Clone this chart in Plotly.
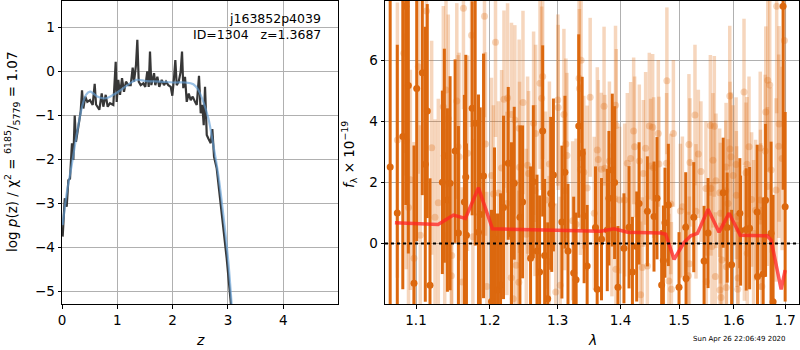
import plotly.graph_objects as go
import math

# ---------------- Left panel: log p(z) ----------------
pz_z = [0.012, 0.05, 0.085, 0.115, 0.145, 0.18, 0.205, 0.23, 0.253, 0.295, 0.338, 0.362, 0.386, 0.421,
        0.458, 0.506, 0.555, 0.591, 0.615, 0.675, 0.718, 0.747, 0.79, 0.826, 0.868, 0.928, 0.971, 0.989,
        1.018, 1.049, 1.085, 1.121, 1.157, 1.199, 1.242, 1.278, 1.302, 1.338, 1.362, 1.387, 1.423, 1.47,
        1.506, 1.542, 1.568, 1.591, 1.615, 1.664, 1.687, 1.724, 1.759, 1.803, 1.844, 1.881, 1.922, 1.966,
        1.995, 2.025, 2.049, 2.074, 2.11, 2.146, 2.17, 2.193, 2.224, 2.255, 2.291, 2.327, 2.363, 2.405,
        2.436, 2.477, 2.508, 2.537, 2.562, 2.586, 2.617, 2.646, 2.689, 2.718, 2.749, 2.797, 2.857, 2.917,
        2.978, 3.038, 3.056]
pz_logp = [-3.75, -2.88, -3.07, -2.47, -2.43, -1.63, -2.01, -1.00, -1.60, -1.22, -0.91, -0.43, -0.84, -0.57,
           -0.69, -0.65, -0.76, -0.28, -0.75, -0.87, -0.50, -0.80, -0.53, -0.80, -0.72, -0.76, 0.22, -0.69,
           -0.19, -0.53, -0.15, -0.46, -0.23, -0.31, -0.31, 0.09, -0.23, 0.15, 0.72, -0.23, -0.31, -0.27,
           -0.35, 0.00, -0.35, 0.45, -0.31, -0.04, -0.31, -0.12, -0.35, -0.19, -0.31, -0.23, -0.31, -0.35,
           -0.55, -0.15, 0.26, -0.31, -0.23, 0.00, 0.45, -0.38, -0.12, -0.69, -0.50, -0.65, -0.57, -0.69,
           -0.76, -0.10, -0.95, -0.76, -1.22, -0.35, -1.44, -1.52, -1.63, -1.31, -1.94, -2.20, -2.96, -3.56,
           -4.25, -5.00, -5.31]

prior_z = [0.012, 0.085, 0.175, 0.265, 0.356, 0.434, 0.506, 0.566, 0.639, 0.747, 0.838, 0.928, 1.018, 1.109,
           1.23, 1.35, 1.53, 1.772, 2.013, 2.224, 2.375, 2.465, 2.555, 2.646, 2.736, 2.826, 2.917, 3.007, 3.068]
prior_logp = [-3.49, -2.77, -2.13, -1.44, -0.84, -0.53, -0.46, -0.50, -0.57, -0.61, -0.59, -0.53, -0.46, -0.38,
              -0.27, -0.19, -0.22, -0.23, -0.25, -0.25, -0.29, -0.42, -0.69, -1.06, -1.67, -2.35, -3.26, -4.32, -5.31]

left_xticks = [0, 1, 2, 3, 4]
left_yticks = [-5, -4, -3, -2, -1, 0, 1]

# ---------------- Right panel: spectrum ----------------
dark_lam = [1.067, 1.076, 1.083, 1.0868, 1.0901, 1.0974, 1.1009, 1.1082, 1.1121, 1.1147, 1.1183, 1.1347, 1.1374,
            1.1415, 1.1451, 1.1519, 1.1564, 1.1646, 1.1665, 1.1674, 1.1753, 1.1795, 1.1841, 1.1865, 1.1912,
            1.2024, 1.2067, 1.2110, 1.2153, 1.2196, 1.2264, 1.2311, 1.2351, 1.2434, 1.2473, 1.2591, 1.2632,
            1.2687, 1.2726, 1.2772, 1.2802, 1.2848, 1.2894, 1.2909, 1.2935, 1.3065, 1.3112, 1.3159, 1.3248,
            1.3285, 1.3327, 1.3381, 1.3412, 1.3460, 1.3593, 1.3620, 1.3690, 1.3783, 1.3810, 1.3865, 1.3903,
            1.3958, 1.4057, 1.4141, 1.4198, 1.4270, 1.4310, 1.4451, 1.4564, 1.4616, 1.4696, 1.4726, 1.4754,
            1.4813, 1.5000, 1.5119, 1.5125, 1.5263, 1.5450, 1.5523, 1.5802, 1.5877, 1.5960, 1.6116, 1.6130,
            1.6237, 1.6302, 1.6448, 1.6455, 1.6565, 1.6612, 1.6720, 1.6760, 1.6959, 1.7000]
dark_flux = [2.5, 1.0, 3.5, 7.76, 5.17, -1.30, 5.07, 5.58, 2.59, 4.33, -1.37, 2.00, 2.87,
             1.42, 1.97, 3.02, 0.34, 1.36, 2.17, 0.27, 4.42, 3.93, 0.37, 0.95, 2.21,
             -1.90, 0.14, -1.52, -1.36, 1.18, 2.62, 0.31, 1.97, 0.86, 1.36, -0.48, 2.02,
             -0.25, -0.93, 3.68, -0.39, -1.81, 1.64, 1.27, 2.24, 0.70, 2.33, -0.25, -0.97,
             -1.19, 3.84, 2.95, 0.90, -0.74, 0.52, -1.50, 0.14, 0.44, 1.48, 2.40, 1.99,
             -1.43, -0.16, 0.53, -0.93, -0.10, 1.31, 1.05, 0.88, 1.48, -1.36, -0.56, 0.68,
             1.26, -1.43, 0.53, -1.15, 0.86, -0.57, 0.34, 1.66, 0.52, -0.70, 0.99, 0.42,
             0.46, 0.50, 1.03, -1.08, -1.00, 1.41, 0.33, -1.91, 7.76, 1.2]
dark_err = [6.0, 5.5, 5.0, 6.5, 5.5, 4.5, 5.0, 4.0, 4.5, 3.5, 3.5, 3.0, 3.5,
            3.0, 3.5, 3.0, 3.5, 3.5, 4.0, 3.0, 3.5, 4.0, 4.5, 3.5, 4.0,
            3.0, 3.0, 2.5, 3.0, 3.0, 2.5, 3.0, 2.5, 3.0, 2.5, 3.0, 2.5,
            2.5, 2.5, 2.8, 2.5, 2.5, 2.5, 2.2, 2.5, 2.5, 2.5, 2.2, 2.5,
            2.2, 3.0, 2.5, 2.2, 2.0, 2.0, 2.0, 2.0, 2.0, 2.2, 2.5, 2.5,
            2.0, 1.8, 2.0, 1.8, 1.8, 2.0, 1.8, 1.8, 2.0, 1.8, 1.8, 1.8,
            2.0, 1.8, 1.8, 1.8, 1.8, 1.8, 1.8, 1.8, 1.8, 1.8, 1.8, 1.8,
            2.0, 2.0, 2.2, 2.2, 2.5, 2.5, 3.0, 3.5, 6.0, 3.1]

light_lam = [1.0761, 1.0843, 1.0863, 1.0875, 1.0903, 1.0927, 1.0974, 1.1030, 1.1056, 1.1136, 1.1205, 1.1249,
             1.1293, 1.1360, 1.1379, 1.1396, 1.1427, 1.1468, 1.1473, 1.1542, 1.1560, 1.1574, 1.1615, 1.1633,
             1.1689, 1.1744, 1.1763, 1.1925, 1.1939, 1.1958, 1.2024, 1.2052, 1.2081, 1.2124, 1.2168, 1.2202,
             1.2245, 1.2254, 1.2307, 1.2311, 1.2336, 1.2360, 1.2380, 1.2418, 1.2423, 1.2428, 1.2479, 1.2528,
             1.2547, 1.2562, 1.2636, 1.2657, 1.2666, 1.2732, 1.2757, 1.2772, 1.2817, 1.2869, 1.2874, 1.2971,
             1.3002, 1.3008, 1.3039, 1.3096, 1.3107, 1.3127, 1.3143, 1.3232, 1.3285, 1.3332, 1.3338, 1.3354,
             1.3364, 1.3407, 1.3460, 1.3508, 1.3573, 1.3622, 1.3638, 1.3687, 1.3731, 1.3743, 1.3818, 1.3859,
             1.3918, 1.3925, 1.3930, 1.3985, 1.4069, 1.4113, 1.4168, 1.4219, 1.4235, 1.4314, 1.4336, 1.4365,
             1.4382, 1.4421, 1.4450, 1.4484, 1.4507, 1.4541, 1.4558, 1.4638, 1.4649, 1.4782, 1.4787, 1.4822,
             1.4854, 1.4866, 1.4901, 1.5024, 1.5060, 1.5166, 1.5177, 1.5184, 1.5195, 1.5285, 1.5303, 1.5346,
             1.5393, 1.5484, 1.5491, 1.5565, 1.5576, 1.5594, 1.5613, 1.5638, 1.5657, 1.5668, 1.5737, 1.5742,
             1.5750, 1.5761, 1.5780, 1.5850, 1.5856, 1.5860, 1.5863, 1.5893, 1.5925, 1.5930, 1.5949, 1.5987,
             1.6044, 1.6050, 1.6055, 1.6076, 1.6081, 1.6195, 1.6202, 1.6233, 1.6252, 1.6258, 1.6291, 1.6341,
             1.6379, 1.6418, 1.6508, 1.6513, 1.6518, 1.6539, 1.6604, 1.6616, 1.6649, 1.6655, 1.6694, 1.6721,
             1.6819, 1.6831, 1.6871, 1.6879, 1.6939, 1.6985]
light_flux = [3.38, 6.22, 6.76, 3.36, 1.18, 2.08, -0.48, 5.78, 0.27, 7.60, 3.13, 0.86,
              1.33, 4.47, 0.25, 5.02, 4.09, -1.06, -0.39, 4.66, 3.16, 2.84, -1.26, 7.69,
              2.95, 6.81, 0.22, 7.43, 3.25, -1.41, 2.22, 1.62, 6.58, 1.65, 2.47, 4.72,
              1.31, 4.76, -1.12, 4.22, -1.81, 4.04, -0.71, -1.27, 3.77, 2.49, 4.61, 0.30,
              2.56, 2.29, 3.93, 1.73, 3.60, 5.24, 4.75, 5.46, 1.42, -0.59, 2.60, -1.59,
              4.69, 4.45, -1.37, 4.22, 1.72, 3.25, 2.88, 0.74, 0.63, 5.40, 5.07, 2.42,
              5.99, 2.33, 1.81, 4.78, 0.99, 3.06, 2.75, 2.43, 4.49, 2.46, 2.70, 0.77,
              4.52, -0.84, 3.86, 1.42, 1.42, 2.62, 2.78, 3.68, 3.16, 2.70, -1.68, -0.79,
              2.29, 3.11, -0.74, 3.84, 2.53, 3.80, 2.48, 3.60, 2.60, 2.62, 5.32, -1.23,
              1.29, -1.50, 3.60, 1.06, 1.20, -1.06, 3.24, -0.66, 2.65, 4.20, 1.05, 2.93,
              2.35, 1.80, -1.25, 3.86, 1.80, -0.10, 2.72, 3.83, -1.08, 2.05, 1.66, -1.52,
              0.99, -1.77, -0.54, 1.72, 2.50, -1.44, -0.76, 1.31, 4.82, 3.09, 2.84, 2.22,
              2.58, 1.58, 0.88, -1.50, -1.13, 4.95, 0.33, 2.31, 2.59, -0.32, 3.16, 1.44,
              0.33, 1.09, 3.12, 1.42, 0.88, -1.41, 3.02, 4.30, 1.86, 5.34, 5.18, 2.40,
              1.75, 7.76, 3.18, 3.91, 2.78, 6.64]
light_err = [4.5, 4.0, 3.8, 4.2, 4.0, 3.6, 3.8, 3.5, 3.6, 3.4, 3.5, 3.2,
             3.4, 3.3, 3.5, 3.2, 3.4, 3.1, 3.3, 3.2, 3.0, 3.4, 3.1, 3.3,
             3.2, 3.0, 3.2, 3.3, 3.0, 3.1, 3.2, 2.9, 3.1, 3.0, 3.2, 2.9,
             3.0, 3.1, 2.8, 3.0, 2.9, 3.1, 2.8, 3.0, 2.9, 2.8, 3.0, 2.8,
             2.9, 2.7, 3.0, 2.8, 2.9, 2.8, 3.0, 2.7, 2.9, 2.8, 2.7, 2.9,
             2.8, 2.7, 2.9, 2.8, 2.6, 2.8, 2.7, 2.6, 2.8, 2.7, 2.6, 2.8,
             2.7, 2.5, 2.7, 2.6, 2.5, 2.7, 2.6, 2.5, 2.6, 2.4, 2.6, 2.5,
             2.6, 2.4, 2.5, 2.4, 2.5, 2.3, 2.5, 2.4, 2.3, 2.5, 2.4, 2.3,
             2.4, 2.5, 2.3, 2.4, 2.2, 2.4, 2.3, 2.4, 2.2, 2.3, 2.4, 2.2,
             2.3, 2.2, 2.4, 2.2, 2.3, 2.1, 2.3, 2.2, 2.1, 2.3, 2.2, 2.1,
             2.3, 2.2, 2.1, 2.3, 2.2, 2.1, 2.2, 2.3, 2.1, 2.2, 2.1, 2.2,
             2.3, 2.1, 2.2, 2.3, 2.1, 2.2, 2.3, 2.1, 2.3, 2.2, 2.1, 2.3,
             2.2, 2.1, 2.3, 2.2, 2.1, 2.4, 2.2, 2.3, 2.2, 2.4, 2.3, 2.2,
             2.4, 2.3, 2.5, 2.3, 2.4, 2.6, 2.5, 2.8, 2.6, 3.0, 2.8, 2.7,
             3.0, 3.5, 3.0, 3.2, 3.0, 3.4]

model_lam = [1.073, 1.129, 1.1496, 1.166, 1.1841, 1.2038, 1.28, 1.3674, 1.3891, 1.4124, 1.4679, 1.4766,
             1.4913, 1.5089, 1.5209, 1.5329, 1.5523, 1.5725, 1.5913, 1.6122, 1.6642, 1.6721, 1.692, 1.70]
model_flux = [0.68, 0.62, 0.93, 0.82, 1.82, 0.48, 0.44, 0.40, 0.48, 0.37, 0.34, 0.30,
              -0.52, 0.03, 0.25, 0.33, 1.12, 0.37, 0.99, 0.27, 0.25, 0.11, -1.50, -0.87]

right_xticks = [1.1, 1.2, 1.3, 1.4, 1.5, 1.6, 1.7]
right_yticks = [0, 2, 4, 6]

# ---------------- Figure ----------------
W, H = 800, 350
FONT = "DejaVu Sans"
DARK = "rgb(220,104,14)"
LIGHT = "rgba(222,108,18,0.28)"

fig = go.Figure()

fig.add_trace(go.Scatter(x=pz_z, y=pz_logp, mode="lines", xaxis="x", yaxis="y",
                         line=dict(color="rgb(55,55,55)", width=2.2), showlegend=False))
fig.add_trace(go.Scatter(x=prior_z, y=prior_logp, mode="lines", xaxis="x", yaxis="y",
                         line=dict(color="rgba(100,160,215,0.65)", width=2.2, shape="spline"),
                         showlegend=False))

fig.add_trace(go.Scatter(x=light_lam, y=light_flux, mode="markers", xaxis="x2", yaxis="y2",
                         marker=dict(color=LIGHT, size=7),
                         error_y=dict(type="data", array=light_err, color=LIGHT, thickness=3.5, width=0),
                         showlegend=False))
fig.add_trace(go.Scatter(x=dark_lam, y=dark_flux, mode="markers", xaxis="x2", yaxis="y2",
                         marker=dict(color=DARK, size=7),
                         error_y=dict(type="data", array=dark_err, color=DARK, thickness=3, width=0),
                         showlegend=False))
fig.add_trace(go.Scatter(x=model_lam, y=model_flux, mode="lines", xaxis="x2", yaxis="y2",
                         line=dict(color="rgba(255,35,35,0.75)", width=3.5), showlegend=False))

fig.add_shape(type="line", xref="x2 domain", yref="y2", x0=0, x1=1, y0=0, y1=0,
              line=dict(color="black", width=2, dash="dot"), layer="above")

axis_common = dict(showline=True, linecolor="black", linewidth=1, mirror=True,
                   ticks="outside", ticklen=3.5, tickcolor="black", tickwidth=1,
                   showgrid=True, gridcolor="#b0b0b0", gridwidth=1, zeroline=False,
                   automargin=False,
                   tickfont=dict(family=FONT, size=13.5, color="black"))

fig.update_layout(
    template="none",
    width=W, height=H, margin=dict(l=0, r=0, t=0, b=0, pad=0),
    paper_bgcolor="white", plot_bgcolor="white",
    xaxis=dict(domain=[62 / W, 338 / W], range=[0, 4.99], tickvals=left_xticks, anchor="y", **axis_common),
    yaxis=dict(domain=[1 - 304 / H, 1 - 1 / H], range=[-5.28, 1.60], tickvals=left_yticks, anchor="x",
               **axis_common),
    xaxis2=dict(domain=[385 / W, 799 / W], type="log",
                range=[math.log10(1.0605), math.log10(1.728)],
                tickvals=right_xticks, ticktext=[str(v) for v in right_xticks], anchor="y2", **axis_common),
    yaxis2=dict(domain=[1 - 304 / H, 1 - 1 / H], range=[-1.98, 7.93], tickvals=right_yticks, anchor="x2",
                **axis_common),
)

ann = [
    dict(x=323 / W, y=1 - 19 / H, text="j163852p4039", xanchor="right", yanchor="middle",
         font=dict(family=FONT, size=12.5, color="black")),
    dict(x=323 / W, y=1 - 35 / H, text="ID=1304   z=1.3687", xanchor="right", yanchor="middle",
         font=dict(family=FONT, size=12.5, color="black")),
    dict(x=200 / W, y=1 - 340 / H, text="<i>z</i>", xanchor="center", yanchor="middle",
         font=dict(family=FONT, size=14, color="black")),
    dict(x=592 / W, y=1 - 340 / H, text="<i>λ</i>", xanchor="center", yanchor="middle",
         font=dict(family=FONT, size=14, color="black")),
    dict(x=12 / W, y=1 - 152 / H, text="log <i>p</i>(z) / χ<sup>2</sup> = <sup>6185</sup>/<sub>5779</sub> = 1.07",
         textangle=-90, xanchor="center", yanchor="middle",
         font=dict(family=FONT, size=13.5, color="black")),
    dict(x=349 / W, y=1 - 155 / H, text="<i>f</i><sub>λ</sub> × 10<sup>−19</sup>",
         textangle=-90, xanchor="center", yanchor="middle",
         font=dict(family=FONT, size=13.5, color="black")),
    dict(x=788 / W, y=1 - 339 / H, text="Sun Apr 26 22:06:49 2020", xanchor="right", yanchor="middle",
         font=dict(family=FONT, size=7, color="black")),
]
for a in ann:
    a.update(xref="paper", yref="paper", showarrow=False)
fig.update_layout(annotations=ann)

fig.write_html("out.html", include_plotlyjs=True, config={"displayModeBar": False},
               post_script="document.body.style.margin='0';document.body.style.overflow='hidden';")
